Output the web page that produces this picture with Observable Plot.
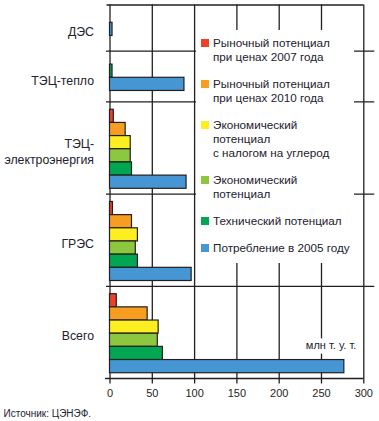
<!DOCTYPE html>
<html>
<head>
<meta charset="utf-8">
<script src="https://cdn.jsdelivr.net/npm/d3@7"></script>
<script src="https://cdn.jsdelivr.net/npm/@observablehq/plot@0.6"></script>
<style>
  html, body { margin: 0; padding: 0; background: #fff; }
  #wrap { position: relative; width: 379px; height: 421px; font-family: "Liberation Sans", Arial, sans-serif; }
  #legend { position: absolute; left: 196px; top: 30px; width: 158px; height: 233px; background: #fff; color: #22222e; font-size: 11.7px; line-height: 14px; }
  .entry { position: relative; padding-left: 17px; margin-bottom: 13px; }
  .entry:first-child { margin-top: 6px; }
  .sw { position: absolute; left: 5px; top: 3px; width: 8px; height: 8px; }
</style>
</head>
<body>
<div id="wrap"><div id="legend"></div></div>
<script>
const groups = ["ДЭС", "ТЭЦ-тепло", "ТЭЦ-электроэнергия", "ГРЭС", "Всего"];
const groupLabels = ["ДЭС", "ТЭЦ-тепло", "ТЭЦ-\nэлектроэнергия", "ГРЭС", "Всего"];
const series = [
  "Рыночный потенциал при ценах 2007 года",
  "Рыночный потенциал при ценах 2010 года",
  "Экономический потенциал с налогом на углерод",
  "Экономический потенциал",
  "Технический потенциал",
  "Потребление в 2005 году"
];
const legendLines = [
  ["Рыночный потенциал", "при ценах 2007 года"],
  ["Рыночный потенциал", "при ценах 2010 года"],
  ["Экономический", "потенциал", "с налогом на углерод"],
  ["Экономический", "потенциал"],
  ["Технический потенциал"],
  ["Потребление в 2005 году"]
];
const colors = ["#ec4128", "#f79d1f", "#fdee21", "#8dc63f", "#00a651", "#4596d2"];
// values per group, in series order (null = no bar)
const valuesDES = [null, null, null, null, null, 3];
const valuesTETSheat = [null, null, null, null, 3, 88];
const valuesTETSel = [4.5, 18.5, 24.5, 24.5, 26, 90.5];
const valuesGRES = [3.5, 26, 33, 30.5, 33, 96.5];
const valuesTotal = [8, 44.5, 57.5, 56.5, 62.5, 277];
const xTicks = [0, 50, 100, 150, 200, 250, 300];
const unitLabel = "млн т. у. т.";
const source = "Источник: ЦЭНЭФ.";

const groupValues = [valuesDES, valuesTETSheat, valuesTETSel, valuesGRES, valuesTotal];

// layout in bar-height units
const bars = [];
const groupInfo = [];
let pos = 0;
groupValues.forEach((vals, gi) => {
  const present = vals.map((v, si) => ({v, si})).filter(d => d.v != null);
  const n = present.length;
  const h = n >= 6 ? n + 1 : 3.15 + 0.35 * n;
  const start = pos + (h - n) / 2 + 0.1;
  present.forEach((d, k) => {
    bars.push({group: groups[gi], series: series[d.si], value: d.v, y1: start + k, y2: start + k + 1});
  });
  groupInfo.push({group: groups[gi], label: groupLabels[gi], top: pos, bottom: pos + h, center: pos + h / 2, firstBar: start, n});
  pos += h;
});
const totalUnits = pos;
const inner = groupInfo.slice(0, -1).map(g => g.bottom);
const last = groupInfo[groupInfo.length - 1];
const unitY = [{label: unitLabel, y: last.firstBar + last.n - 1.5}];

const ink = "#231f20";
const chart = Plot.plot({
  width: 379,
  height: 421,
  marginLeft: 109.5,
  marginRight: 15.7,
  marginTop: 4.5,
  marginBottom: 43,
  style: {fontFamily: "'Liberation Sans', Arial, sans-serif", color: ink, background: "transparent"},
  x: {domain: [0, 300], ticks: xTicks, tickSize: 0, tickPadding: 9, label: null, tickFormat: d => String(d)},
  y: {domain: [0, totalUnits], reverse: true, axis: null},
  color: {domain: series, range: colors},
  marks: [
    Plot.ruleX(xTicks, {stroke: ink, strokeWidth: 1.3, insetBottom: -5.5}),
    Plot.ruleY(inner, {stroke: ink, strokeWidth: 1.3, insetLeft: -3.5, insetRight: -11}),
    Plot.ruleY([0], {stroke: ink, strokeWidth: 1.3, insetLeft: -3}),
    Plot.ruleY([totalUnits], {stroke: ink, strokeWidth: 1.3, insetLeft: -4.5}),
    Plot.rect(bars, {x1: 0, x2: "value", y1: "y1", y2: "y2", fill: "series", stroke: ink, strokeWidth: 1.2}),
    Plot.text(groupInfo, {y: "center", text: "label", frameAnchor: "left", textAnchor: "end", dx: -16, dy: 3, fontSize: 12.3, lineHeight: 1.28, fill: "#22222e"}),
    Plot.text(unitY, {y: "y", text: "label", frameAnchor: "right", textAnchor: "end", dx: -7.5, dy: -8, fontSize: 11, fill: "#22222e", stroke: "white", strokeWidth: 9, paintOrder: "stroke"}),
    Plot.axisX({ticks: xTicks, tickSize: 0, tickPadding: 11, fontSize: 11, tickFormat: d => String(d)}),
    Plot.text([source], {frameAnchor: "bottom-left", textAnchor: "start", dx: -106.5, dy: 38, fontSize: 10, fill: "#22222e"})
  ]
});
const wrap = document.getElementById("wrap");
chart.style.position = "absolute";
chart.style.left = "0";
chart.style.top = "0";
wrap.insertBefore(chart, wrap.firstChild);

const legend = document.getElementById("legend");
legendLines.forEach((lines, i) => {
  const e = document.createElement("div");
  e.className = "entry";
  const sw = document.createElement("div");
  sw.className = "sw";
  sw.style.background = colors[i];
  e.appendChild(sw);
  lines.forEach(t => { const l = document.createElement("div"); l.textContent = t; e.appendChild(l); });
  legend.appendChild(e);
});
</script>
</body>
</html>
